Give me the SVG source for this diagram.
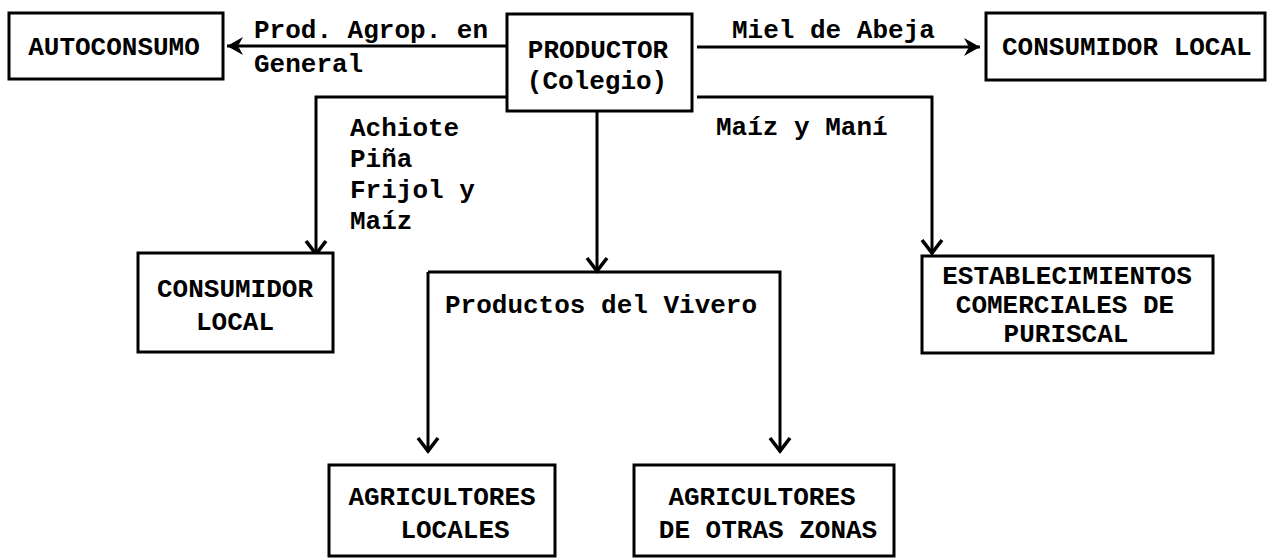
<svg xmlns="http://www.w3.org/2000/svg" width="1269" height="558" viewBox="0 0 1269 558">
<style>
.box{fill:#fff;stroke:#000;stroke-width:3}
.c{fill:none;stroke:#000;stroke-width:3}
.t{font-family:"Liberation Mono","Courier New",monospace;font-weight:bold;font-size:26px;fill:#000}
.m{text-anchor:middle}
</style>
<defs>
<marker id="av" viewBox="0 0 18 24" markerWidth="18" markerHeight="24" refX="16" refY="12" orient="auto" markerUnits="userSpaceOnUse">
<path d="M2,2 L15,12 L2,22" fill="none" stroke="#000" stroke-width="3.6"/>
</marker>
<marker id="af" viewBox="0 0 18 22" markerWidth="18" markerHeight="22" refX="17" refY="11" orient="auto" markerUnits="userSpaceOnUse">
<path d="M1,2 L17,11 L1,20 L6,11 z" fill="#000"/>
</marker>
</defs>
<rect width="1269" height="558" fill="#fff"/>
<g id="connectors">
<path class="c" d="M507,46 H227" marker-end="url(#af)"/>
<path class="c" d="M697,47 H980" marker-end="url(#af)"/>
<path class="c" d="M507,97 H316 V255" marker-end="url(#av)"/>
<path class="c" d="M697,97 H932 V254" marker-end="url(#av)"/>
<path class="c" d="M597,111 V272" marker-end="url(#av)"/>
<path class="c" d="M428,272 V452" marker-end="url(#av)"/>
<path class="c" d="M428,272 H780 V452" marker-end="url(#av)"/>
<text class="t" x="254" y="38">Prod. Agrop. en</text>
<text class="t" x="254" y="72">General</text>
<text class="t" x="732" y="38">Miel de Abeja</text>
<text class="t" x="350" y="136">Achiote</text>
<text class="t" x="350" y="167">Piña</text>
<text class="t" x="350" y="198">Frijol y</text>
<text class="t" x="350" y="229">Maíz</text>
<text class="t" x="716" y="135">Maíz y Maní</text>
<text class="t" x="445" y="313">Productos del Vivero</text>
</g>
<g id="autoconsumo">
<rect class="box" x="9" y="13" width="214" height="66"/>
<text class="t m" x="114" y="55">AUTOCONSUMO</text>
</g>
<g id="productor">
<rect class="box" x="507" y="14" width="185" height="97"/>
<text class="t m" x="598" y="58">PRODUCTOR</text>
<text class="t m" x="597" y="89">(Colegio)</text>
</g>
<g id="consumidor-local-1">
<rect class="box" x="986" y="13" width="279" height="67"/>
<text class="t" x="1002" y="55">CONSUMIDOR LOCAL</text>
</g>
<g id="consumidor-local-2">
<rect class="box" x="138" y="253" width="195" height="99"/>
<text class="t m" x="235" y="297">CONSUMIDOR</text>
<text class="t m" x="235" y="330">LOCAL</text>
</g>
<g id="establecimientos">
<rect class="box" x="922" y="256" width="291" height="97"/>
<text class="t m" x="1067" y="284">ESTABLECIMIENTOS</text>
<text class="t m" x="1065" y="313">COMERCIALES DE</text>
<text class="t m" x="1066" y="342">PURISCAL</text>
</g>
<g id="agricultores-locales">
<rect class="box" x="329" y="465" width="226" height="91"/>
<text class="t m" x="442" y="505">AGRICULTORES</text>
<text class="t m" x="455" y="538">LOCALES</text>
</g>
<g id="agricultores-otras">
<rect class="box" x="634" y="465" width="260" height="91"/>
<text class="t m" x="762" y="505">AGRICULTORES</text>
<text class="t m" x="768" y="538">DE OTRAS ZONAS</text>
</g>
</svg>
